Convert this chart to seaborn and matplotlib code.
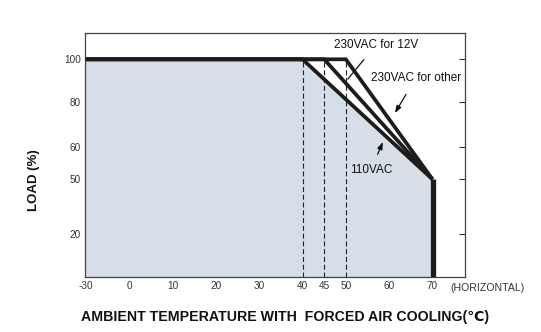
import numpy as np
import pandas as pd
import matplotlib
matplotlib.use("Agg")
import matplotlib.pyplot as plt
import seaborn as sns

# Derating data: ambient temperature (deg C) vs. permitted load (%)
temp_110vac = [-30, 40, 70]
load_110vac = [100, 100, 50]
temp_230vac_other = [-30, 45, 70]
load_230vac_other = [100, 100, 50]
temp_230vac_12v = [-30, 50, 70]
load_230vac_12v = [100, 100, 50]
cutoff_temp = 70
cutoff_load = [50, 0]
knee_temps = [40, 45, 50]

x_ticks = [-30, 0, 10, 20, 30, 40, 45, 50, 60, 70]
y_ticks = [20, 50, 60, 80, 100]

# The chart uses a broken (piecewise) scale on both axes
X_BREAK_VALS = [-30, 0, 80]
X_BREAK_POS = [-10, 0, 80]
Y_BREAK_VALS = [0, 20, 50, 60, 80, 100, 115]
Y_BREAK_POS = [0, 43, 97.7, 130.3, 175.3, 217.7, 244]


def xp(v):
    return np.interp(v, X_BREAK_VALS, X_BREAK_POS)


def yp(v):
    return np.interp(v, Y_BREAK_VALS, Y_BREAK_POS)


sns.set_style("ticks")
plt.rcParams["font.family"] = ["Liberation Sans", "DejaVu Sans"]

fig = plt.figure(figsize=(5.41, 3.32), dpi=100)
ax = fig.add_axes([85 / 541, 1 - 277 / 332, 380 / 541, 244 / 332])

line_color = "#1c1c1c"
fill_color = "#d6dee7"

# Shaded operating area below the 110VAC curve
fill_t = temp_110vac + [cutoff_temp, -30]
fill_l = load_110vac + [0, 0]
ax.fill(xp(fill_t), yp(fill_l), color=fill_color, lw=0, zorder=1)

# Dashed guides at the knee temperatures
for t in knee_temps:
    ax.plot([xp(t), xp(t)], [yp(0), yp(100)], color="#222222", lw=0.8,
            dashes=(4.5, 2.5), zorder=2)

curves = pd.concat([
    pd.DataFrame({"temp": xp(temp_230vac_12v), "load": yp(load_230vac_12v), "input": "230VAC for 12V"}),
    pd.DataFrame({"temp": xp(temp_230vac_other), "load": yp(load_230vac_other), "input": "230VAC for other"}),
    pd.DataFrame({"temp": xp(temp_110vac), "load": yp(load_110vac), "input": "110VAC"}),
])
for name, grp in curves.groupby("input", sort=False):
    sns.lineplot(data=grp, x="temp", y="load", ax=ax, sort=False, estimator=None,
                 color=line_color, lw=2.7, legend=False, zorder=4,
                 solid_joinstyle="miter", solid_capstyle="butt")

# Hard cut-off at the maximum temperature
sns.lineplot(x=xp([cutoff_temp, cutoff_temp]), y=yp(cutoff_load), ax=ax, sort=False,
             estimator=None, color=line_color, lw=3.8, zorder=5, solid_capstyle="butt")

ax.set_xlim(-10.2, 77.5)
ax.set_ylim(0, 244)
ax.set_xticks(xp(x_ticks))
ax.set_xticklabels([str(t) for t in x_ticks])
ax.set_yticks(yp(y_ticks))
ax.set_yticklabels([str(t) for t in y_ticks])
ax.tick_params(axis="both", direction="in", length=4.5, width=0.8, color="#333333",
               labelsize=7.2, labelcolor="#333333", pad=3)
ax.tick_params(axis="y", right=True, left=True)
ax.tick_params(axis="x", top=False)
for side in ax.spines.values():
    side.set_visible(True)
    side.set_linewidth(0.9)
    side.set_color("#444444")

ax.set_xlabel("AMBIENT TEMPERATURE WITH  FORCED AIR COOLING(\u2103)", fontsize=10.2,
              fontweight="bold", color="#111111", va="center")
ax.xaxis.set_label_coords((285 - 85) / 380, (277 - 317) / 244)
ax.set_ylabel("LOAD (%)", fontsize=9.5, fontweight="bold", color="#111111", va="center")
ax.yaxis.set_label_coords((34 - 85) / 380, (277 - 180) / 244)

ax.text((450 - 85) / 380, (277 - 288) / 244, "(HORIZONTAL)", transform=ax.transAxes,
        fontsize=7.6, color="#333333", ha="left", va="center", clip_on=False)

# Curve labels with leader lines
def px(xpix):
    return (xpix - 129.3) / 4.333


def py(ypix):
    return 277 - ypix


ax.annotate("230VAC for 12V", xy=(px(348), py(79)), xytext=(px(376), py(45)),
            fontsize=8.5, color="#111111", ha="center", va="center",
            arrowprops=dict(arrowstyle="-", color="#111111", lw=0.9, shrinkA=5, shrinkB=0))
ax.annotate("230VAC for other", xy=(px(395), py(113)), xytext=(px(416), py(78)),
            fontsize=8.5, color="#111111", ha="center", va="center",
            arrowprops=dict(arrowstyle="-|>,head_length=0.5,head_width=0.18", color="#111111",
                            lw=0.9, shrinkA=6, shrinkB=0))
ax.annotate("110VAC", xy=(px(383), py(142)), xytext=(px(371), py(170)),
            fontsize=8.5, color="#111111", ha="center", va="center",
            arrowprops=dict(arrowstyle="-|>,head_length=0.5,head_width=0.18", color="#111111",
                            lw=0.9, shrinkA=5, shrinkB=0))

fig.savefig("out.png", dpi=100)
